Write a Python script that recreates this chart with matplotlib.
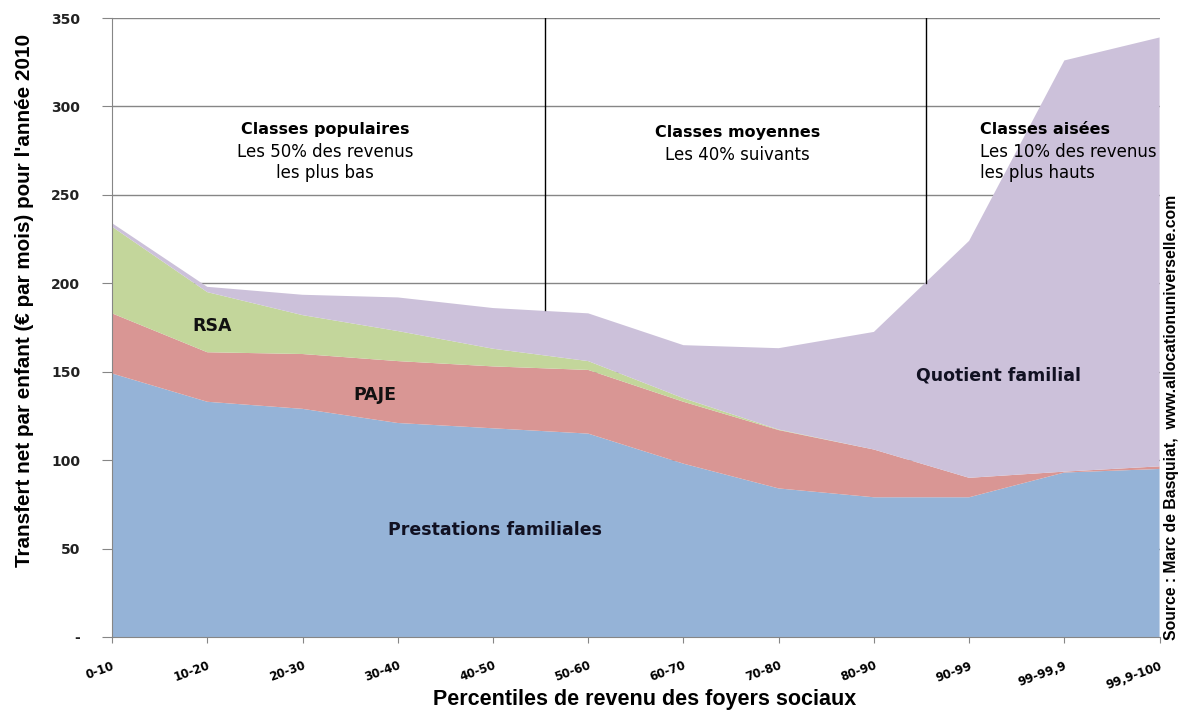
import numpy as np
import matplotlib
matplotlib.use('Agg')
import matplotlib.pyplot as plt

categories = ['0-10', '10-20', '20-30', '30-40', '40-50', '50-60', '60-70',
              '70-80', '80-90', '90-99', '99-99,9', '99,9-100']
prestations = [149, 133, 129, 121, 118, 115, 98, 84, 79, 79, 93, 95]
paje = [34, 28, 31, 35, 35, 36, 35, 33, 27, 11, 0.5, 1.5]
rsa = [49, 34, 22, 17, 10, 5, 2, 0.3, 0, 0, 0, 0]
quotient = [2, 3, 11.5, 19, 23, 27, 30, 46, 66.5, 134, 232.5, 242.5]

colors = ['#95b3d7', '#d99694', '#c3d69b', '#ccc1da']

plt.rcParams['font.family'] = ['DejaVu Sans']

fig = plt.figure(figsize=(11.87, 7.2), dpi=100)
ax = fig.add_axes([0.0944, 0.1153, 0.8825, 0.8597])

x = np.arange(len(categories))
ax.stackplot(x, prestations, paje, rsa, quotient, colors=colors, zorder=2)

# gridlines behind the areas
for v in [50, 100, 150, 200, 250, 300, 350]:
    ax.axhline(v, color='#868686', lw=1, zorder=1)

# class boundaries
ax.plot([4.55, 4.55], [185, 350], color='black', lw=1, zorder=3)
ax.plot([8.55, 8.55], [200, 350], color='black', lw=1, zorder=3)

ax.set_xlim(0, 11)
ax.set_ylim(0, 350)
ax.set_xticks(x)
ax.set_xticklabels(categories, rotation=20, fontsize=8.5, fontweight='bold',
                   ha='right', va='top', rotation_mode='anchor')
ax.set_yticks([0, 50, 100, 150, 200, 250, 300, 350])
ax.set_yticklabels(['-', '50', '100', '150', '200', '250', '300', '350'],
                   fontsize=10, fontweight='bold', color='#222222')
ax.tick_params(axis='both', color='#868686')
ax.tick_params(axis='y', length=7, pad=16)
ax.tick_params(axis='x', length=4, pad=12)
for s in ['top', 'right']:
    ax.spines[s].set_visible(False)
for s in ['left', 'bottom']:
    ax.spines[s].set_color('#868686')

# class annotations
ax.text(2.24, 287, 'Classes populaires', ha='center', va='center', fontsize=11.5, fontweight='bold')
ax.text(2.24, 274.5, 'Les 50% des revenus', ha='center', va='center', fontsize=12)
ax.text(2.24, 262.5, 'les plus bas', ha='center', va='center', fontsize=12)
ax.text(6.57, 285, 'Classes moyennes', ha='center', va='center', fontsize=11.5, fontweight='bold')
ax.text(6.57, 272.5, 'Les 40% suivants', ha='center', va='center', fontsize=12)
ax.text(9.11, 287, 'Classes aisées', ha='left', va='center', fontsize=11.5, fontweight='bold')
ax.text(9.11, 274.5, 'Les 10% des revenus', ha='left', va='center', fontsize=12)
ax.text(9.11, 262.5, 'les plus hauts', ha='left', va='center', fontsize=12)

# series labels
ax.text(1.05, 176, 'RSA', ha='center', va='center', fontsize=12.5, fontweight='bold', color='#111111')
ax.text(2.76, 137, 'PAJE', ha='center', va='center', fontsize=12.5, fontweight='bold', color='#111111')
ax.text(4.02, 60.5, 'Prestations familiales', ha='center', va='center', fontsize=12.5, fontweight='bold', color='#111122')
ax.text(9.31, 147.6, 'Quotient familial', ha='center', va='center', fontsize=12.5, fontweight='bold', color='#111122')

fig.text(0.021, 0.583, "Transfert net par enfant (€ par mois) pour l'année 2010",
         rotation=90, ha='center', va='center', fontsize=14.9, fontweight='bold',
         family=['Liberation Sans', 'DejaVu Sans'])
fig.text(0.543, 0.028, 'Percentiles de revenu des foyers sociaux',
         ha='center', va='center', fontsize=15.5, fontweight='bold',
         family=['Liberation Sans', 'DejaVu Sans'])
fig.text(0.987, 0.42, 'Source : Marc de Basquiat,  www.allocationuniverselle.com',
         rotation=90, ha='center', va='center', fontsize=11.3, fontweight='bold',
         family=['Liberation Sans', 'DejaVu Sans'])

fig.savefig('out.png', dpi=100)
